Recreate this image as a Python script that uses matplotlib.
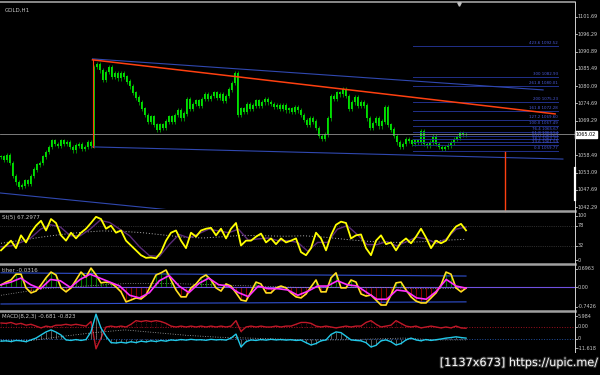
import numpy as np
import matplotlib
matplotlib.use('Agg')
import matplotlib.pyplot as plt
import matplotlib.patheffects as pe
from matplotlib.lines import Line2D

# ---- price data (GOLD, H1 closes) ----
close = [1058, 1057, 1058.5, 1056, 1052, 1050, 1048.5, 1049, 1050.5, 1049.5,
         1052, 1054, 1055.5, 1056, 1058, 1059.5, 1061, 1063, 1062, 1061.5,
         1063, 1062, 1062.5, 1061, 1060, 1061.5, 1062, 1060.5, 1061, 1062.5,
         1061.5, 1086, 1087, 1085, 1082, 1084.5, 1086, 1083, 1084, 1082.5,
         1084, 1083, 1081.5, 1080, 1078, 1076.5, 1075, 1073, 1071, 1069,
         1070.5, 1068, 1066.5, 1068, 1067, 1069, 1070.5, 1069, 1071, 1072.5,
         1070, 1071.5, 1076, 1073, 1074.5, 1075.5, 1074, 1076, 1077.5, 1076,
         1077, 1078, 1076.5, 1077.5, 1075.5, 1077, 1079, 1081, 1084, 1071,
         1073, 1072, 1074.5, 1073, 1074, 1075.5, 1074, 1075, 1076, 1075,
         1074.5, 1073.5, 1074, 1073, 1074, 1072.5, 1073, 1072, 1073.5, 1072.5,
         1071, 1069.5, 1068, 1070, 1069, 1067, 1064.5, 1063.5, 1065, 1070,
         1077, 1076, 1078, 1077.5, 1079, 1077, 1073, 1075, 1076.5, 1074,
         1075, 1074, 1070, 1067, 1068.5, 1070, 1067.5, 1069, 1073.5, 1068,
         1066.5, 1064.5, 1062.5, 1061, 1062, 1063.5, 1063, 1062, 1063, 1062.5,
         1066, 1062, 1061.5, 1062.5, 1064.5, 1062, 1061, 1060.5, 1061, 1061.5,
         1062.5, 1063.5, 1064, 1065.5, 1065, 1065.02]
bid = 1065.02
price_ticks = [1101.69, 1096.29, 1090.89, 1085.49, 1080.09, 1074.69,
               1069.29, 1063.89, 1058.49, 1053.09, 1047.69, 1042.29]

# trend lines: (bar, price) anchors
red_trend = ([30.5, 184.7], [1088.3, 1071.4])
blue_upper = ([30.5, 180.7], [1088.6, 1078.9])
blue_lower = ([30.5, 187.3], [1061.1, 1057.3])
blue_left = ([-0.3, 56.3], [1046.7, 1041.4])
red_vert1 = ([30.5, 30.5], [1061.1, 1088.3])
red_vert2 = ([168, 168], [1059.5, 1041.0])

fib_levels = ['423.6', '300', '261.8', '200', '161.8', '127.2', '100.0',
              '76.4', '61.8', '50.0', '38.2', '23.6', '0.0']
fib_prices = [1092.52, 1082.93, 1080.01, 1075.23, 1072.28, 1069.60, 1067.49,
              1065.67, 1064.54, 1063.63, 1062.72, 1061.59, 1059.77]
fib_span = [137.3, 185.7]

# ---- stochastic ----
stoch_main = [22, 33, 44, 27, 56, 40, 62, 78, 89, 67, 93, 84, 56, 44, 62, 49,
              62, 71, 84, 98, 93, 71, 78, 62, 67, 44, 33, 22, 11, 5, 6, 4, 18,
              44, 62, 67, 44, 27, 62, 53, 67, 71, 73, 56, 71, 49, 71, 84, 33,
              44, 44, 53, 60, 40, 49, 36, 49, 40, 44, 49, 18, 11, 27, 62, 49,
              22, 56, 80, 87, 84, 49, 56, 58, 27, 11, 44, 56, 36, 40, 22, 40,
              49, 38, 53, 71, 51, 27, 44, 38, 44, 62, 76, 82, 67.3]
stoch_signal = [30, 32, 40, 50, 70, 80, 75, 55, 55, 70, 90, 85, 70, 55, 30, 10,
                8, 35, 58, 50, 60, 70, 66, 62, 70, 45, 48, 50, 44, 44, 40, 20,
                40, 40, 70, 78, 58, 35, 35, 42, 32, 42, 52, 48, 38, 48, 70, 75]
stoch_ma = [38, 45, 52, 58, 63, 66, 65, 62, 57, 52, 50, 53, 56, 55, 54, 55,
            52, 47, 43, 40, 40, 42, 45, 47]
stoch_levels = [78, 32]

# ---- oscillator panel ----
osc_main = [0.09, 0.2, 0.28, 0.5, 0.5, -0.02, -0.21, -0.14, 0.09, 0.36, 0.58,
            0.47, -0.02, -0.17, -0.02, 0.28, 0.58, 0.39, 0.73, 0.47, 0.17, 0.2,
            0.17, 0.02, -0.17, -0.55, -0.48, -0.4, -0.44, -0.29, 0.09, 0.47,
            0.55, 0.66, 0.28, -0.1, -0.36, -0.36, -0.02, 0.13, 0.36, 0.47,
            0.28, -0.02, -0.14, 0.13, 0.05, -0.21, -0.48, -0.52, -0.17, 0.2,
            0.13, -0.21, -0.21, -0.02, 0.05, -0.02, -0.21, -0.36, -0.4, -0.25,
            0.02, 0.28, -0.17, -0.17, 0.36, 0.55, -0.02, -0.02, 0.28, 0.2,
            -0.25, -0.33, -0.29, -0.48, -0.67, -0.67, -0.29, 0.17, 0.2, -0.1,
            -0.36, -0.52, -0.59, -0.59, -0.4, -0.21, 0.09, 0.58, 0.5, -0.02,
            -0.17, -0.03]
osc_signal = [0.1, 0.2, 0.35, 0.1, -0.05, 0.3, 0.25, 0.0, 0.3, 0.5, 0.35, 0.2,
              0.05, -0.3, -0.4, -0.2, 0.25, 0.45, 0.05, -0.2, 0.15, 0.35, 0.1,
              0.05, -0.2, -0.35, 0.05, -0.05, -0.05, -0.1, -0.3, -0.15, 0.05,
              0.05, 0.25, 0.1, 0.05, -0.2, -0.45, -0.45, -0.1, -0.15, -0.4,
              -0.45, -0.15, 0.3, 0.05, -0.03]
osc_dotted = [-0.3, -0.05, 0.05, 0.15, 0.15, 0.1, 0.05, 0.0, 0.0, 0.0,
              -0.05, -0.03]
osc_band_up = [0.55, 0.43]
osc_band_dn = [-0.63, -0.55]
osc_ticks = [0.6963, 0.00, -0.7426]

# ---- MACD panel ----
macd_red = [2.2, 2.0, 2.5, 1.5, 2.0, 1.0, 1.5, 0.5, -0.5, 0.5, 0.0, 1.0, 1.0,
            1.5, 1.0, 1.5, 1.0, 0.5, 3.0, -12.0, -6.0, 0.0, 0.5, 0.0, 0.5, 0.0,
            1.5, 3.5, 3.0, 3.5, 3.0, 3.5, 3.0, 2.0, 0.5, 0.0, 0.5, 0.0, 0.5,
            0.0, 0.5, 0.0, 0.5, 0.0, 0.5, 0.0, 0.5, 3.5, -2.5, 0.0, 0.5, 0.0,
            0.5, 0.0, 0.0, 0.5, 0.0, 0.5, 0.5, 1.5, 2.5, 2.5, 2.0, 0.5, 0.0,
            0.5, 0.0, -0.5, 0.0, 0.5, 0.0, 0.5, 0.5, 2.5, 3.5, 1.5, 0.0, 0.5,
            1.0, 3.5, 2.0, 0.5, 0.0, 0.5, -0.5, 0.0, 0.5, 0.0, -0.5, 0.0,
            -0.5, 0.5, -0.5, -0.68]
macd_cyan = [-1.2, -1.0, -1.4, -0.8, -1.0, -1.5, -0.5, 0.5, 2.2, 3.9, 5.0,
             3.8, 2.2, -0.5, -0.8, -0.3, -0.8, -0.3, 4.0, 13.7, 6.0, 1.5, -2.0,
             -2.2, -1.8, -2.2, -1.5, -2.0, -1.2, -1.6, -1.0, -1.4, -0.8, -1.2,
             -0.5, -0.8, -0.3, -0.6, -0.2, -0.5, -0.4, -0.7, -0.2, -0.5, -0.3,
             -0.6, 0.5, 2.7, -4.4, -1.5, -0.5, -0.8, -0.3, -0.6, -0.2, -0.5,
             -0.3, -0.6, -0.4, -0.8, -0.6, -2.0, -3.3, -2.5, -1.0, -0.5, 2.5,
             3.9, 3.5, 1.5, -0.5, -0.8, -1.0, -2.0, -4.4, -3.5, -1.0, -0.5,
             -1.5, -3.3, -2.5, -0.5, 0.5, -0.5, -1.0, -0.3, -0.8, -0.4, 0.0,
             0.5, 0.8, 1.2, 0.8, 0.5]
macd_sig = [-1.0, -0.8, 1.5, 3.5, 5.0, 3.5, 2.0, 1.0, 0.5, 0.0, -0.5, -0.5,
            0.0, 0.5, -0.5, -0.5]

W, H = 600, 375
fig = plt.figure(figsize=(6, 3.75), dpi=100, facecolor='black')
nb = len(close)
XL = (-1 / 3, 191.33)
TXT = '#c8c8c8'
FS = 4.0      # panel captions
FSR = 3.5     # right scale labels


def panel(top, bottom):
    ax = fig.add_axes([0, 1 - bottom / H, 575 / W, (bottom - top) / H])
    ax.set_facecolor('black')
    ax.set_axis_off()
    ax.set_xlim(*XL)
    return ax


def rlabel(ax, y, s, color=TXT):
    tr = ax.get_yaxis_transform()
    ax.text(1.004, y, s, transform=tr, color=color, fontsize=FSR,
            va='center', ha='left', clip_on=False)
    ax.plot([1.0, 1.003], [y, y], transform=tr, color=TXT, lw=0.6,
            clip_on=False)


def xs(n):
    return np.linspace(0, nb - 1, n)


# ---- main price panel ----
ax = panel(3, 209)
ax.set_ylim(1041.69, 1106.06)
c = np.array(close)
o = np.concatenate([[c[0]], c[:-1]])
hi = np.maximum(o, c) + 0.7
lo = np.minimum(o, c) - 0.7
idx = np.arange(nb)
ax.vlines(idx, lo, hi, color='#00c000', lw=0.5)
ax.bar(idx, np.abs(c - o) + 0.15, bottom=np.minimum(o, c), width=0.5,
       color='#00e000', lw=0)
ax.axhline(bid, color='#909090', lw=0.6)
for p, lev in zip(fib_prices, fib_levels):
    ax.plot(fib_span, [p, p], color='#22308a', lw=0.7)
    ax.text(fib_span[1], p + 0.3, f'{lev} {p:.2f}', color='#4a5ad8',
            fontsize=2.9, ha='right', va='bottom')
ax.plot(*blue_upper, color='#3048b0', lw=0.8)
ax.plot(*blue_lower, color='#3048b0', lw=0.8)
ax.plot(*blue_left, color='#3048b0', lw=0.8)
ax.plot(*red_trend, color='#ff4010', lw=1.1)
ax.plot(*red_vert1, color='#ff4010', lw=0.8)
ax.plot(*red_vert2, color='#ff4010', lw=1.0, clip_on=False)
ax.text(0.009, 0.975, 'GOLD,H1', transform=ax.transAxes, color=TXT,
        fontsize=FS, va='top')
for t in price_ticks:
    rlabel(ax, t, f'{t:.2f}')
ax.text(1.001, bid, f'{bid:.2f}', transform=ax.get_yaxis_transform(),
        color='black', fontsize=FSR, va='center', ha='left', clip_on=False,
        bbox=dict(boxstyle='square,pad=0.2', fc='white', ec='white'))

# ---- stochastic panel ----
ax = panel(212, 262)
ax.set_ylim(-4.4, 108.9)
for lv in stoch_levels:
    ax.axhline(lv, color='#555555', lw=0.5, ls=':')
ax.plot(xs(len(stoch_ma)), stoch_ma, color='#b0b0b0', lw=0.7, ls=(0, (1, 2)))
ax.plot(xs(len(stoch_signal)), stoch_signal, color='#5a2a78', lw=1.0)
ax.plot(xs(len(stoch_main)), stoch_main, color='#ffff00', lw=1.3)
ax.text(0.004, 0.93, f'St(5) {67.2977}', transform=ax.transAxes, color=TXT,
        fontsize=FS, va='top')
for t in [100, 78, 32, 0]:
    rlabel(ax, t, str(t))

# ---- oscillator panel ----
ax = panel(266, 309)
ax.set_ylim(-0.82, 0.81)
xo = xs(len(osc_main))
om = np.array(osc_main)
ax.vlines(xo[om > 0], 0, om[om > 0], color='#007a00', lw=0.8)
ax.vlines(xo[om < 0], om[om < 0], 0, color='#8a0000', lw=0.8)
ax.axhline(0, color='#7050e0', lw=0.8)
ax.plot([0, nb - 1], osc_band_up, color='#3050d0', lw=0.8)
ax.plot([0, nb - 1], osc_band_dn, color='#3050d0', lw=0.8)
ax.plot(xs(len(osc_dotted)), osc_dotted, color='#a0a0a0', lw=0.6,
        ls=(0, (1, 2)))
ax.plot(xo, om, color='#ffe020', lw=1.2)
ax.plot(xs(len(osc_signal)), osc_signal, color='#ff30ff', lw=1.2)
ax.text(0.004, 0.95, 'tiher -0.0316', transform=ax.transAxes, color=TXT,
        fontsize=FS, va='top')
for t, s in zip(osc_ticks, ['0.6963', '0.00', '-0.7426']):
    rlabel(ax, t, s)

# ---- MACD panel ----
ax = panel(312, 352)
ax.set_ylim(-13.75, 8.25)
ax2 = fig.add_axes(ax.get_position(), frameon=False)
ax2.set_axis_off()
ax2.set_xlim(*XL)
ax2.set_ylim(-7.15, 14.85)
xm = xs(len(macd_red))
ax.vlines(xm, 0, macd_red, color='#7a1020', lw=0.6, linestyles=':')
ax.axhline(0, color='#a01020', lw=0.7, ls=':')
ax.plot(xm, macd_red, color='#c01828', lw=1.0)
ax2.vlines(xm, 0, macd_cyan, color='#a0a0a0', lw=0.4)
ax2.axhline(0, color='#2050a0', lw=0.7, ls=':')
ax2.plot(xs(len(macd_sig)), macd_sig, color='#b0b0b0', lw=0.6,
         ls=(0, (1, 2)))
ax2.plot(xm, macd_cyan, color='#20c8e8', lw=1.0)
ax.text(0.004, 0.95, 'MACD(8,2,3) -0.681 -0.823', transform=ax.transAxes,
        color=TXT, fontsize=FS, va='top')
for t, s in zip([5.984, 0.0, -11.618], ['5.984', '0.00', '-11.618']):
    rlabel(ax, t, s)
rlabel(ax2, 0, '0')


# ---- frame lines ----
def fline(x0, y0, x1, y1, color='#a0a0a0', lw=1.5):
    fig.add_artist(Line2D([x0 / W, x1 / W], [1 - y0 / H, 1 - y1 / H],
                          color=color, lw=lw))


fline(0, 2, 575, 2, lw=1.2)
for yy in [210.5, 264, 310.5]:
    fline(0, yy, 575, yy, lw=1.8)
fline(575, 2, 575, 352, color='#d0d0d0', lw=0.7)
fline(575, 168, 575, 200, color='white', lw=1.6)
fig.add_artist(Line2D([459 / W], [1 - 4 / H], marker='v', color='#c0c0c0',
                      markersize=2.5, lw=0))

fig.text(598 / W, 1 - 363 / H, '[1137x673] https://upic.me/', color='white',
         fontsize=8.1, ha='right', va='center',
         family=['DejaVu Sans Condensed', 'DejaVu Sans'],
         path_effects=[pe.withStroke(linewidth=1.5, foreground='#303030')])

fig.savefig('out.png', dpi=100, facecolor='black')
